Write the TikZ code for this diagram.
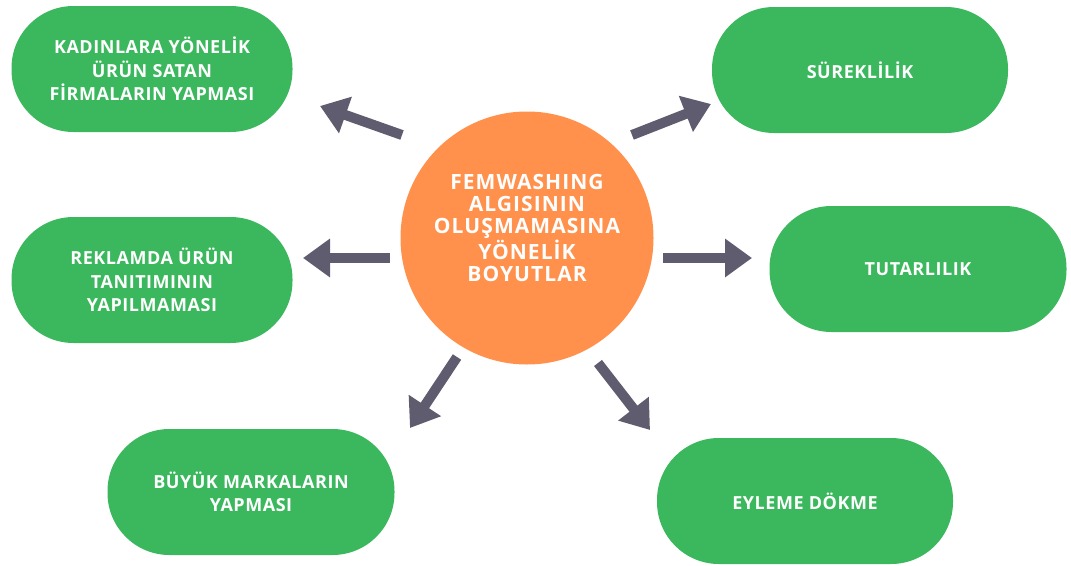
\documentclass[tikz,border=0pt]{standalone}
\usepackage{fontspec}
\setmainfont{Open Sans}
\usetikzlibrary{arrows.meta,positioning}

\definecolor{boxgreen}{HTML}{3BB85D}
\definecolor{huborange}{HTML}{FF914D}
\definecolor{arrowgray}{HTML}{5E5C6E}

\begin{document}
\begin{tikzpicture}[
    x = 1pt, y = -1pt, % pixel grid of the reference
    font = \fontsize{18}{23.5}\selectfont\bfseries\addfontfeatures{LetterSpace=3},
    every node/.style = {align = center, text = white},
    bigarrow/.style = {
        -{Triangle[length=27pt, width=37pt]},
        line width = 10pt,
        draw = arrowgray
        }
    ]

    \tikzset{dim/.style={
        fill = boxgreen,
        rectangle,
        rounded corners = 62pt,
        minimum width = 290pt,
        minimum height = 126pt
        }}

    \useasboundingbox (0,0) rectangle (1071,565);

    % central circle
    \node[circle, fill = huborange, minimum size = 253pt] (hub) at (527,238) {};
    \node[font = \fontsize{21}{22}\selectfont\bfseries\addfontfeatures{LetterSpace=5}]
        (title) at (527,228)
        {FEMWASHING\\ALGISININ\\OLUŞMAMASINA\\YÖNELİK\\BOYUTLAR};

    % dimensions
    \node[dim, minimum width = 281pt] (s1) at (152,69)
        {KADINLARA YÖNELİK\\ÜRÜN SATAN\\FİRMALARIN YAPMASI};
    \node[dim, minimum width = 281pt] (s2) at (152,280)
        {REKLAMDA ÜRÜN\\TANITIMININ\\YAPILMAMASI};
    \node[dim, minimum width = 287pt] (s3) at (251,492)
        {BÜYÜK MARKALARIN\\YAPMASI};
    \node[dim, minimum width = 296pt] (s4) at (860,70) {SÜREKLİLİK};
    \node[dim, minimum width = 297pt] (s5) at (918,269) {TUTARLILIK};
    \node[dim, minimum width = 296pt] (s6) at (805,501) {EYLEME DÖKME};

    % arrow ends
    \coordinate (a1) at (402,135);  \coordinate (e1) at (320,106);
    \coordinate (a2) at (390,258);  \coordinate (e2) at (303,258);
    \coordinate (a3) at (457,357);  \coordinate (e3) at (410,428);
    \coordinate (a4) at (632,135);  \coordinate (e4) at (711,104);
    \coordinate (a5) at (663,258);  \coordinate (e5) at (752,258);
    \coordinate (a6) at (598,363);  \coordinate (e6) at (650,430);

    \draw[bigarrow] (a1) -- (e1);
    \draw[bigarrow] (a2) -- (e2);
    \draw[bigarrow] (a3) -- (e3);
    \draw[bigarrow] (a4) -- (e4);
    \draw[bigarrow] (a5) -- (e5);
    \draw[bigarrow] (a6) -- (e6);
\end{tikzpicture}
\end{document}
